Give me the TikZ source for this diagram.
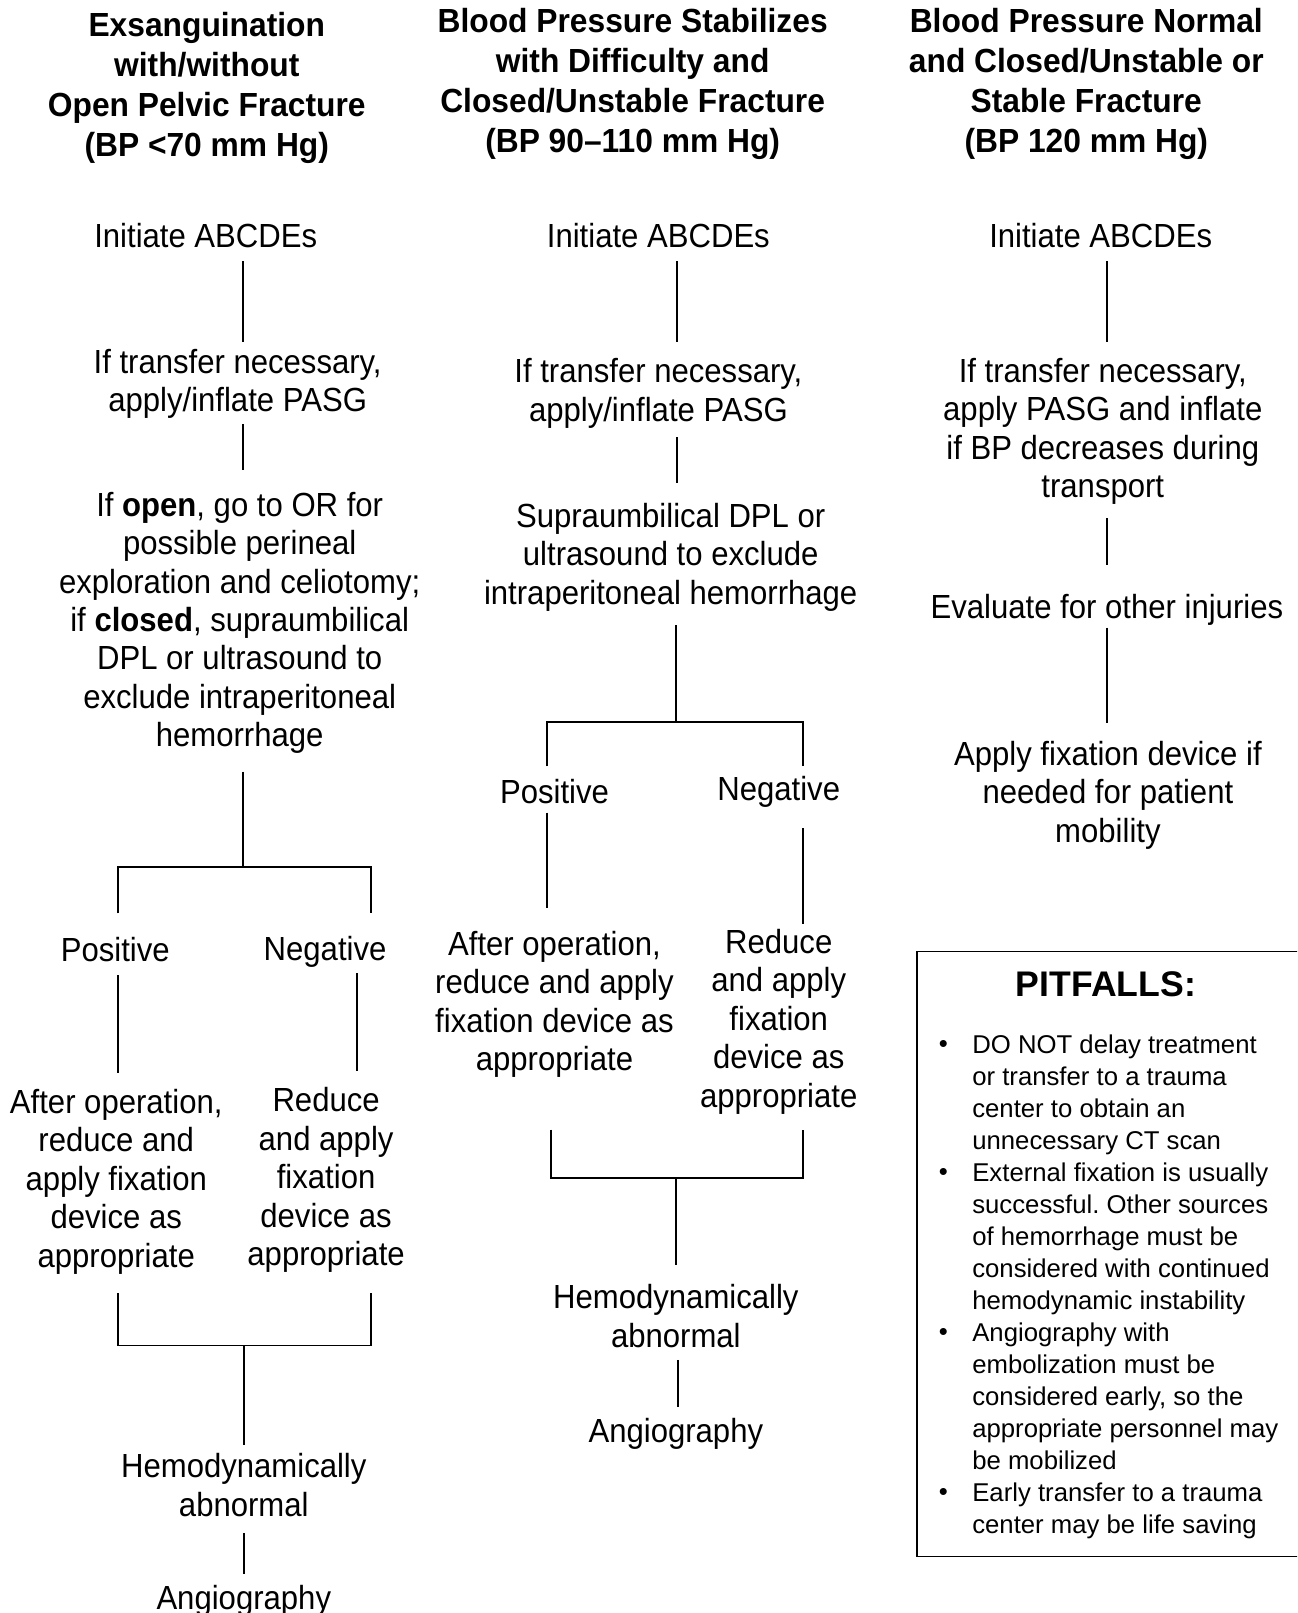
\documentclass[tikz,border=0pt]{standalone}
\usepackage{fontspec}
\setmainfont{Liberation Sans}
\newfontfamily\mainf[FakeStretch=0.93]{Liberation Sans}
\newfontfamily\mainbf[FakeStretch=0.93]{Liberation Sans Bold}
\newfontfamily\headf[FakeStretch=0.95]{Liberation Sans Bold}
\newfontfamily\pitf{Liberation Sans}
\newfontfamily\pitbf{Liberation Sans Bold}
\frenchspacing
\begin{document}
\begin{tikzpicture}[x=1bp,y=-1bp,
  txt/.style={align=center,inner sep=0pt,font=\mainf\fontsize{32.5bp}{37.4bp}\selectfont},
  hd/.style={align=center,inner sep=0pt,font=\headf\fontsize{32.5bp}{39bp}\selectfont},
  ln/.style={line width=1.8bp,line cap=butt},
  bul/.style={inner sep=0pt,font=\pitf\fontsize{25bp}{31.13bp}\selectfont},
  ptxt/.style={align=left,inner sep=0pt,anchor=west,font=\pitf\fontsize{25bp}{31.13bp}\selectfont}]
\clip (0,0) rectangle (1261,1568);
\fill[white] (0,0) rectangle (1261,1568);

% headers
\node[hd] (h1) at (201,85.5) {Exsanguination\\with/without\\Open Pelvic Fracture\\(BP <70 mm Hg)};
\node[hd] (h2) at (615,81.5) {Blood Pressure Stabilizes\\with Difficulty and\\Closed/Unstable Fracture\\(BP 90–110 mm Hg)};
\node[hd] (h3) at (1056,81.5) {Blood Pressure Normal\\and Closed/Unstable or\\Stable Fracture\\(BP 120 mm Hg)};

% column 1
\node[txt] (n11) at (200,229) {Initiate ABCDEs};
\node[txt] (n12) at (231,373) {If transfer necessary,\\apply/inflate PASG};
\node[txt] (n13) at (233,605.5) {If {\mainbf open}, go to OR for\\possible perineal\\exploration and celiotomy;\\if {\mainbf closed}, supraumbilical\\DPL or ultrasound to\\exclude intraperitoneal\\hemorrhage};
\node[txt] (p1) at (112,923) {Positive};
\node[txt] (g1) at (316,925) {Negative};
\node[txt] (a1) at (113,1148.5) {After operation,\\reduce and\\apply fixation\\device as\\appropriate};
\node[txt] (r1) at (317,1147) {Reduce\\and apply\\fixation\\device as\\appropriate};
\node[txt] (hd1) at (237,1443.5) {Hemodynamically\\abnormal};
\node[txt] (an1) at (237,1556) {Angiography};

% column 2
\node[txt] (n21) at (640,229) {Initiate ABCDEs};
\node[txt] (n22) at (640,382.5) {If transfer necessary,\\apply/inflate PASG};
\node[txt] (n23) at (652,541.5) {Supraumbilical DPL or\\ultrasound to exclude\\intraperitoneal hemorrhage};
\node[txt] (p2) at (539,769) {Positive};
\node[txt] (g2) at (757,770) {Negative};
\node[txt] (a2) at (539,976.5) {After operation,\\reduce and apply\\fixation device as\\appropriate};
\node[txt] (r2) at (757,993) {Reduce\\and apply\\fixation\\device as\\appropriate};
\node[txt] (hd2) at (657,1279.5) {Hemodynamically\\abnormal};
\node[txt] (an2) at (657,1394) {Angiography};

% column 3
\node[txt] (n31) at (1070,229) {Initiate ABCDEs};
\node[txt] (n32) at (1072,419.5) {If transfer necessary,\\apply PASG and inflate\\if BP decreases during\\transport};
\node[txt] (n33) at (1076,593) {Evaluate for other injuries};
\node[txt] (n34) at (1077,773) {Apply fixation device if\\needed for patient\\mobility};

% connectors column 1
\coordinate (a11) at (236,254);  \coordinate (a12) at (236,332);
\coordinate (a13) at (236,412);  \coordinate (a14) at (236,457);
\coordinate (a15) at (236,750);  \coordinate (j1) at (236,843);
\coordinate (bl1) at (115,843);  \coordinate (br1) at (361,843);
\coordinate (bl1e) at (115,888); \coordinate (br1e) at (361,888);
\coordinate (pl1a) at (115,948); \coordinate (pl1b) at (115,1043);
\coordinate (ng1a) at (347,946); \coordinate (ng1b) at (347,1041);
\coordinate (ml1) at (115,1257); \coordinate (mr1) at (361,1257);
\coordinate (kl1) at (115,1308); \coordinate (kr1) at (361,1308);
\coordinate (k1) at (237,1308);  \coordinate (k1e) at (237,1405);
\coordinate (q1a) at (237,1490); \coordinate (q1b) at (237,1530);
\draw[ln] (a11) -- (a12);
\draw[ln] (a13) -- (a14);
\draw[ln] (a15) -- (j1);
\draw[ln] (bl1e) -- (bl1) -- (br1) -- (br1e);
\draw[ln] (pl1a) -- (pl1b);
\draw[ln] (ng1a) -- (ng1b);
\draw[ln] (ml1) -- (kl1) -- (kr1) -- (mr1);
\draw[ln] (k1) -- (k1e);
\draw[ln] (q1a) -- (q1b);

% connectors column 2
\coordinate (a21) at (658,254);  \coordinate (a22) at (658,332);
\coordinate (a23) at (658,425);  \coordinate (a24) at (658,470);
\coordinate (a25) at (657,608);  \coordinate (j2) at (657,702);
\coordinate (bl2) at (532,702);  \coordinate (br2) at (781,702);
\coordinate (bl2e) at (532,745); \coordinate (br2e) at (781,745);
\coordinate (pl2a) at (532,790); \coordinate (pl2b) at (532,883);
\coordinate (ng2a) at (781,805); \coordinate (ng2b) at (781,898);
\coordinate (ml2) at (536,1098); \coordinate (mr2) at (781,1098);
\coordinate (kl2) at (536,1145); \coordinate (kr2) at (781,1145);
\coordinate (k2) at (657,1145);  \coordinate (k2e) at (657,1230);
\coordinate (q2a) at (659,1322); \coordinate (q2b) at (659,1368);
\draw[ln] (a21) -- (a22);
\draw[ln] (a23) -- (a24);
\draw[ln] (a25) -- (j2);
\draw[ln] (bl2e) -- (bl2) -- (br2) -- (br2e);
\draw[ln] (pl2a) -- (pl2b);
\draw[ln] (ng2a) -- (ng2b);
\draw[ln] (ml2) -- (kl2) -- (kr2) -- (mr2);
\draw[ln] (k2) -- (k2e);
\draw[ln] (q2a) -- (q2b);

% connectors column 3
\coordinate (a31) at (1076,254); \coordinate (a32) at (1076,332);
\coordinate (a33) at (1076,504); \coordinate (a34) at (1076,549);
\coordinate (a35) at (1076,610); \coordinate (a36) at (1076,703);
\draw[ln] (a31) -- (a32);
\draw[ln] (a33) -- (a34);
\draw[ln] (a35) -- (a36);

% pitfalls box
\draw[ln] (1290,925) -- (891,925) -- (891,1513) -- (1290,1513);
\node[inner sep=0pt,font=\pitbf\fontsize{34.6bp}{40bp}\selectfont] (pt) at (1075,957) {PITFALLS:};
\node[bul] (b1) at (917,1017) {•};
\node[bul] (b2) at (917,1142) {•};
\node[bul] (b3) at (917,1297) {•};
\node[bul] (b4) at (917,1453) {•};
\node[ptxt] (pl) at (945,1251) {DO NOT delay treatment\\or transfer to a trauma\\center to obtain an\\unnecessary CT scan\\External fixation is usually\\successful. Other sources\\of hemorrhage must be\\considered with continued\\hemodynamic instability\\Angiography with\\embolization must be\\considered early, so the\\appropriate personnel may\\be mobilized\\Early transfer to a trauma\\center may be life saving};
\end{tikzpicture}
\end{document}
